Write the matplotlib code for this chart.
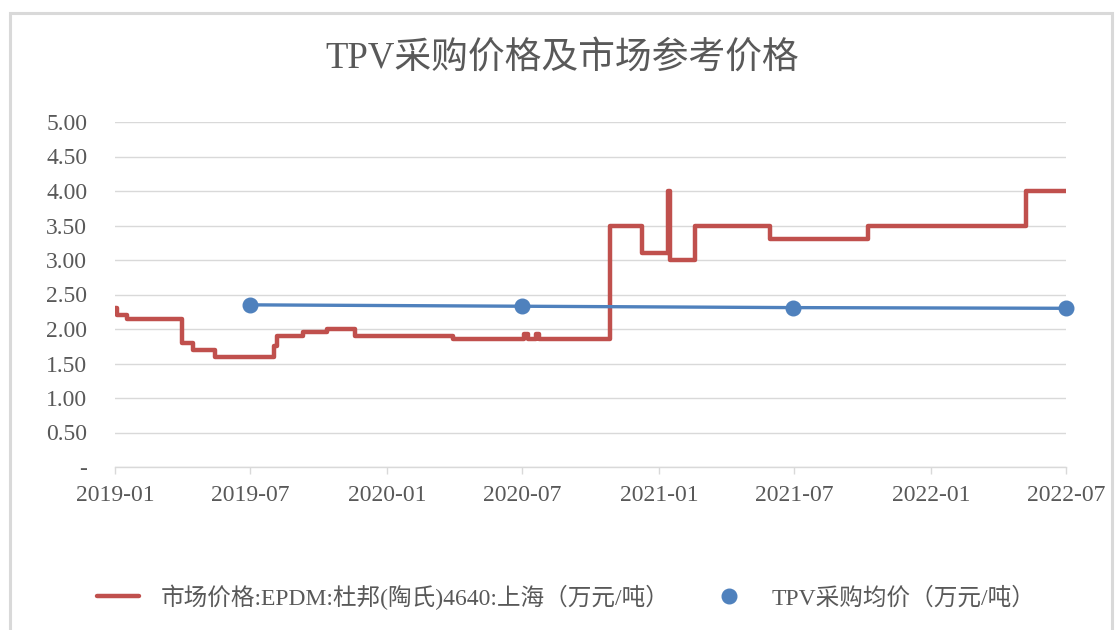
import matplotlib
matplotlib.use("Agg")
import matplotlib.pyplot as plt
import pandas as pd
from matplotlib.patches import Rectangle

plt.rcParams['font.family'] = ['Liberation Serif', 'Noto Sans CJK SC', 'DejaVu Sans']

# ---- data ----
market_dates = ['2019-01-01', '2019-01-04', '2019-01-17', '2019-04-01', '2019-04-16',
                '2019-05-15', '2019-08-02', '2019-08-06', '2019-09-10', '2019-10-13',
                '2019-11-19', '2020-03-30', '2020-07-03', '2020-07-08', '2020-07-19',
                '2020-07-24', '2020-10-27', '2020-12-09', '2021-01-12', '2021-01-15',
                '2021-02-18', '2021-05-30', '2021-10-08', '2022-05-08', '2022-07-01']
market_values = [2.30, 2.20, 2.15, 1.80, 1.70,
                 1.60, 1.75, 1.90, 1.95, 2.00,
                 1.90, 1.85, 1.93, 1.85, 1.93,
                 1.85, 3.50, 3.10, 4.00, 3.00,
                 3.50, 3.30, 3.50, 4.00, 4.00]

tpv_dates = ['2019-07-01', '2020-06-30', '2021-06-30', '2022-07-01']
tpv_values = [2.35, 2.33, 2.31, 2.30]

title = 'TPV采购价格及市场参考价格'
label_market = '市场价格:EPDM:杜邦(陶氏)4640:上海（万元/吨）'
label_tpv = 'TPV采购均价（万元/吨）'
xtick_labels = ['2019-01', '2019-07', '2020-01', '2020-07', '2021-01', '2021-07', '2022-01', '2022-07']
ytick_values = [0, 0.5, 1.0, 1.5, 2.0, 2.5, 3.0, 3.5, 4.0, 4.5, 5.0]

red = '#C0504D'
blue = '#4F81BD'
text_col = '#595959'
grid_col = '#D9D9D9'

W, H = 1115, 630
fig = plt.figure(figsize=(W / 100, H / 100), dpi=100)

# outer border
fig.patches.append(Rectangle((10 / W, -0.05), (1112 - 10) / W, (H - 13) / H + 0.05,
                             transform=fig.transFigure, fill=False,
                             edgecolor=grid_col, linewidth=2.2))

ax = fig.add_axes([115 / W, 1 - 467 / H, (1066 - 115) / W, (467 - 122) / H])

md = pd.to_datetime(market_dates)
td = pd.to_datetime(tpv_dates)

ax.plot(md, market_values, drawstyle='steps-post', color=red, linewidth=3.2,
        solid_capstyle='round', solid_joinstyle='round', label=label_market, zorder=3)
ax.plot(td, tpv_values, color=blue, linewidth=2.4, zorder=4, clip_on=False)
ax.plot(td, tpv_values, linestyle='none', marker='o', markersize=10.5,
        color=blue, label=label_tpv, zorder=5, clip_on=False)

ax.set_xlim(pd.Timestamp('2019-01-01'), pd.Timestamp('2022-07-01'))
ax.set_ylim(0, 5)

xt = pd.to_datetime([s + '-01' for s in xtick_labels])
ax.set_xticks(xt)
ax.set_xticklabels(xtick_labels)
ax.set_yticks(ytick_values)
ax.set_yticklabels(['-' if v == 0 else f'{v:.2f}' for v in ytick_values])

for s in ['top', 'right', 'left']:
    ax.spines[s].set_visible(False)
ax.spines['bottom'].set_color(grid_col)
ax.spines['bottom'].set_linewidth(1.0)
ax.grid(axis='y', color=grid_col, linewidth=1.0)
ax.set_axisbelow(True)

ax.tick_params(axis='y', length=0, pad=20, labelsize=17, labelcolor=text_col)
ax.tick_params(axis='x', length=5, width=1, color=grid_col, pad=8,
               labelsize=17, labelcolor=text_col)

fig.text(562 / W, 1 - 58 / H, title, ha='center', va='center',
         fontsize=26.5, color=text_col)

handles, labels = ax.get_legend_handles_labels()
leg = fig.legend(handles, labels, loc='center', bbox_to_anchor=(566 / W, 1 - 597 / H),
                 ncol=2, frameon=False, fontsize=17, handlelength=1.8,
                 handletextpad=0.9, columnspacing=1.6, labelcolor=text_col)

fig.savefig('out.png', dpi=100, facecolor='white')
